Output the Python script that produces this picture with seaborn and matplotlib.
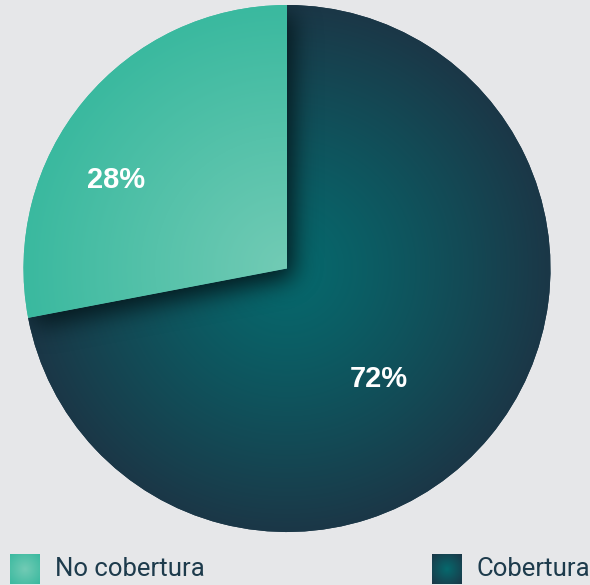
import numpy as np
import matplotlib
matplotlib.use("Agg")
import matplotlib.pyplot as plt
import seaborn as sns

# data
labels = ["Cobertura", "No cobertura"]
values = [72, 28]
pct_text = ["72%", "28%"]
inner_colors = ["#06696d", "#72cbb5"]
outer_colors = ["#1b3747", "#3ab99f"]
label_radius = [0.546, 0.73]
label_angle = [-50.2, 152.6]
legend_labels = ["No cobertura", "Cobertura"]

bg = "#e6e7e9"
sns.set_theme(style="white", rc={"figure.facecolor": bg, "axes.facecolor": bg})
plt.rcParams["font.family"] = ["Roboto", "DejaVu Sans"]

W, H = 590, 585
cx, cy, R = 287, 268.5, 263.5

fig = plt.figure(figsize=(W / 100, H / 100), dpi=100)
ax = fig.add_axes([0, 0, 1, 1])

wedges, _ = ax.pie(values, startangle=90, counterclock=False, radius=1,
                   colors=outer_colors, wedgeprops=dict(linewidth=0))
ext = (-cx / R, (W - cx) / R, (cy - H) / R, cy / R)
ax.set_xlim(ext[0], ext[1])
ax.set_ylim(ext[2], ext[3])
ax.set_aspect("auto")
ax.axis("off")

# pixel grid in data units
xs = (np.arange(W) + 0.5 - cx) / R
ys = (cy - (np.arange(H) + 0.5)) / R
X, Y = np.meshgrid(xs, ys)
r = np.clip(np.hypot(X, Y), 0, 1)

cmaps = [sns.blend_palette([i, o], as_cmap=True) for i, o in zip(inner_colors, outer_colors)]

# dark slice gradient
im = ax.imshow(r ** 1.2, cmap=cmaps[0], vmin=0, vmax=1, extent=ext,
               origin="upper", aspect="auto", zorder=2)
im.set_clip_path(wedges[0])

# shadow of the light slice falling on the dark one
theta1, theta2 = wedges[1].theta1, wedges[1].theta2
ang = np.degrees(np.arctan2(Y, X)) % 360
mask = ((np.hypot(X, Y) <= 1) & (ang >= theta1 % 360) & (ang <= theta2 % 360)).astype(float)
shift_x, shift_y = 7, 9
mask = np.roll(np.roll(mask, shift_y, axis=0), shift_x, axis=1)
s = 12
k = np.exp(-0.5 * (np.arange(-3 * s, 3 * s + 1) / s) ** 2)
k /= k.sum()
blur = np.apply_along_axis(lambda m: np.convolve(m, k, mode="same"), 1, mask)
blur = np.apply_along_axis(lambda m: np.convolve(m, k, mode="same"), 0, blur)
shadow = np.zeros((H, W, 4))
shadow[..., :3] = np.array([4, 22, 27]) / 255
shadow[..., 3] = np.clip(blur * 0.95, 0, 1)
sh = ax.imshow(shadow, extent=ext, origin="upper", aspect="auto", zorder=3)
sh.set_clip_path(wedges[0])

# light slice gradient
im2 = ax.imshow(r, cmap=cmaps[1], vmin=0, vmax=1, extent=ext,
                origin="upper", aspect="auto", zorder=4)
im2.set_clip_path(wedges[1])

for txt, rr, a in zip(pct_text, label_radius, label_angle):
    ax.text(rr * np.cos(np.radians(a)), rr * np.sin(np.radians(a)), txt,
            ha="center", va="center", color="white", fontsize=21,
            fontweight="bold", family=["Liberation Sans", "DejaVu Sans"], zorder=5)

# legend with gradient squares
sq = np.hypot(*np.meshgrid(np.linspace(-1, 1, 60), np.linspace(-1, 1, 60))) / np.sqrt(2)
legend_cmaps = [cmaps[1], cmaps[0]]
legend_x = [10, 432]
for lab, cm, lx in zip(legend_labels, legend_cmaps, legend_x):
    lax = fig.add_axes([lx / W, 1 / H, 30 / W, 30 / H])
    lax.imshow(sq, cmap=cm, vmin=0, vmax=1, aspect="auto")
    lax.axis("off")
    fig.text((lx + 45) / W, (H - 569) / H, lab, ha="left", va="center",
             fontsize=18.5, color="#1d3b4c")

fig.savefig("out.png", dpi=100, facecolor=bg)
